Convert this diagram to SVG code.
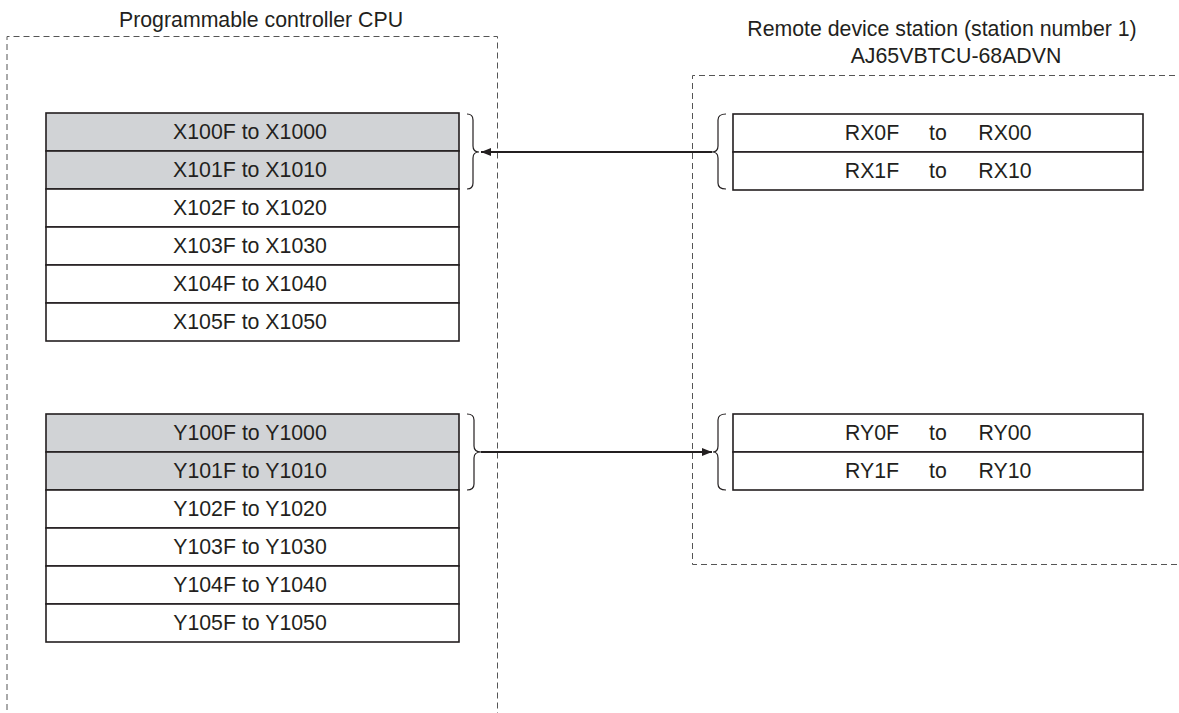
<svg xmlns="http://www.w3.org/2000/svg" width="1179" height="713" viewBox="0 0 1179 713">
<style>
.t{font-family:"Liberation Sans",Arial,sans-serif;font-size:21.3px;fill:#231f20;text-anchor:middle;dominant-baseline:central}
.cell{stroke:#231f20;stroke-width:1.6}
.g{fill:#d1d3d6}
.w{fill:#ffffff}
.dash{fill:none;stroke:#555;stroke-width:1;stroke-dasharray:6 4}
.br{fill:none;stroke:#231f20;stroke-width:1.2}
.ln{stroke:#231f20;stroke-width:2;fill:none}
</style>
<defs>
<marker id="ah" viewBox="0 0 10 8" refX="10" refY="4" markerWidth="10" markerHeight="8" markerUnits="userSpaceOnUse" orient="auto">
<path d="M0,0 L10,4 L0,8 z" fill="#231f20"/>
</marker>
</defs>
<rect width="1179" height="713" fill="#ffffff"/>
<g id="cpu-frame">
<text class="t" x="261" y="20">Programmable controller CPU</text>
<path class="dash" d="M7,720 L7,36.5 L497.5,36.5 L497.5,720"/>
</g>
<g id="remote-frame">
<text class="t" x="942" y="29">Remote device station (station number 1)</text>
<text class="t" x="956" y="56">AJ65VBTCU-68ADVN</text>
<path class="dash" d="M1185,75.5 L692.5,75.5 L692.5,564.5 L1185,564.5"/>
</g>
<g id="x-table">
<rect class="cell g" x="46" y="113" width="413" height="38"/>
<rect class="cell g" x="46" y="151" width="413" height="38"/>
<rect class="cell w" x="46" y="189" width="413" height="38"/>
<rect class="cell w" x="46" y="227" width="413" height="38"/>
<rect class="cell w" x="46" y="265" width="413" height="38"/>
<rect class="cell w" x="46" y="303" width="413" height="38"/>
<text class="t" x="250" y="132">X100F to X1000</text>
<text class="t" x="250" y="170">X101F to X1010</text>
<text class="t" x="250" y="208">X102F to X1020</text>
<text class="t" x="250" y="246">X103F to X1030</text>
<text class="t" x="250" y="284">X104F to X1040</text>
<text class="t" x="250" y="322">X105F to X1050</text>
</g>
<g id="y-table">
<rect class="cell g" x="46" y="414" width="413" height="38"/>
<rect class="cell g" x="46" y="452" width="413" height="38"/>
<rect class="cell w" x="46" y="490" width="413" height="38"/>
<rect class="cell w" x="46" y="528" width="413" height="38"/>
<rect class="cell w" x="46" y="566" width="413" height="38"/>
<rect class="cell w" x="46" y="604" width="413" height="38"/>
<text class="t" x="250" y="433">Y100F to Y1000</text>
<text class="t" x="250" y="471">Y101F to Y1010</text>
<text class="t" x="250" y="509">Y102F to Y1020</text>
<text class="t" x="250" y="547">Y103F to Y1030</text>
<text class="t" x="250" y="585">Y104F to Y1040</text>
<text class="t" x="250" y="623">Y105F to Y1050</text>
</g>
<g id="rx-table">
<rect class="cell w" x="733" y="114" width="410" height="38"/>
<rect class="cell w" x="733" y="152" width="410" height="38"/>
<text class="t" x="872" y="133">RX0F</text><text class="t" x="938" y="133">to</text><text class="t" x="1005" y="133">RX00</text>
<text class="t" x="872" y="171">RX1F</text><text class="t" x="938" y="171">to</text><text class="t" x="1005" y="171">RX10</text>
</g>
<g id="ry-table">
<rect class="cell w" x="733" y="414" width="410" height="38"/>
<rect class="cell w" x="733" y="452" width="410" height="38"/>
<text class="t" x="872" y="433">RY0F</text><text class="t" x="938" y="433">to</text><text class="t" x="1005" y="433">RY00</text>
<text class="t" x="872" y="471">RY1F</text><text class="t" x="938" y="471">to</text><text class="t" x="1005" y="471">RY10</text>
</g>
<g id="braces">
<path class="br" d="M467,114 Q473,114 473,120 L473,146 Q473,152 479,152 Q473,152 473,158 L473,183 Q473,189 467,189"/>
<path class="br" d="M726,114 Q718,114 718,120 L718,146 Q718,152 712,152 Q718,152 718,158 L718,183 Q718,189 726,189"/>
<path class="br" d="M467,414 Q474,414 474,420 L474,446 Q474,452 481,452 Q474,452 474,458 L474,484 Q474,490 467,490"/>
<path class="br" d="M726,414 Q718,414 718,420 L718,446 Q718,452 713,452 Q718,452 718,458 L718,484 Q718,490 726,490"/>
</g>
<g id="connectors">
<line class="ln" x1="712" y1="152" x2="481" y2="152" marker-end="url(#ah)"/>
<line class="ln" x1="481" y1="452" x2="712" y2="452" marker-end="url(#ah)"/>
</g>
</svg>
